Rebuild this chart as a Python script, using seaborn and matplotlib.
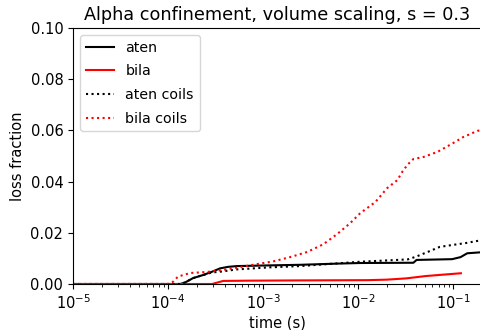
import numpy as np
import pandas as pd
import matplotlib
matplotlib.use("Agg")
import matplotlib.pyplot as plt
import seaborn as sns

# Loss fraction vs time for the two configurations, with and without coil losses
aten_t = [1e-5, 1.34e-4, 1.51e-4, 1.83e-4, 2.33e-4, 2.9e-4, 3.52e-4, 4.28e-4, 5.3e-4,
          9.3e-4, 2.45e-3, 6.5e-3, 1.05e-2, 3.8e-2, 4.1e-2, 9.7e-2, 1.19e-1, 1.4e-1, 1.97e-1]
aten_v = [0.0, 0.0, 0.0006, 0.0023, 0.0035, 0.0048, 0.0061, 0.0067, 0.0070,
          0.0072, 0.0075, 0.0080, 0.0082, 0.0083, 0.0094, 0.0097, 0.0105, 0.0120, 0.0124]

bila_t = [1e-5, 2.9e-4, 3.8e-4, 7.0e-4, 2.3e-3, 1.25e-2, 2.0e-2, 3.2e-2, 5.1e-2, 8.1e-2, 1.2e-1]
bila_v = [0.0, 0.0, 0.0012, 0.0013, 0.0014, 0.0015, 0.0017, 0.0022, 0.0031, 0.0037, 0.0042]

aten_coils_t = [1e-5, 1.34e-4, 1.51e-4, 1.83e-4, 2.33e-4, 2.9e-4, 3.52e-4, 5.3e-4,
                1.17e-3, 2.45e-3, 1.05e-2, 3.3e-2, 4.0e-2, 5.6e-2, 7.2e-2, 1.0e-1, 1.35e-1, 1.9e-1]
aten_coils_v = [0.0, 0.0, 0.0006, 0.0023, 0.0035, 0.0045, 0.0048, 0.0057,
                0.0065, 0.0070, 0.0087, 0.0096, 0.0106, 0.0128, 0.0145, 0.0153, 0.0160, 0.0170]

bila_coils_t = [1e-5, 1.0e-4, 1.13e-4, 1.27e-4, 1.71e-4, 2.58e-4, 3.79e-4, 5.73e-4, 8.65e-4,
                1.27e-3, 1.92e-3, 2.9e-3, 4.28e-3, 6.0e-3, 8.24e-3, 1.05e-2, 1.245e-2,
                1.51e-2, 2.02e-2, 2.58e-2, 2.9e-2, 3.28e-2, 3.79e-2, 4.83e-2, 6.8e-2,
                1.0e-1, 1.27e-1, 1.79e-1, 1.97e-1]
bila_coils_v = [0.0, 0.0, 0.0009, 0.0029, 0.0043, 0.0047, 0.0055, 0.0066, 0.0078,
                0.0088, 0.0105, 0.0125, 0.0155, 0.0195, 0.0238, 0.0277, 0.0297,
                0.0320, 0.0375, 0.0406, 0.0438, 0.0465, 0.0488, 0.0496, 0.0516,
                0.0551, 0.0574, 0.0598, 0.0602]

y_ticks = [0.00, 0.02, 0.04, 0.06, 0.08, 0.10]

series = [
    ("aten", aten_t, aten_v, "black", "-"),
    ("bila", bila_t, bila_v, "red", "-"),
    ("aten coils", aten_coils_t, aten_coils_v, "black", ":"),
    ("bila coils", bila_coils_t, bila_coils_v, "red", ":"),
]

fig = plt.figure(figsize=(4.8, 3.3), dpi=100)
ax = fig.add_axes([73 / 480, 46 / 330, 409 / 480, 256 / 330])

for name, t, v, color, ls in series:
    df = pd.DataFrame({"time": t, "loss": v})
    sns.lineplot(data=df, x="time", y="loss", ax=ax, color=color,
                 linestyle=ls, linewidth=1.5, label=name, estimator=None)

ax.set_xscale("log")
ax.set_xlim(1e-5, 0.2)
ax.set_ylim(0, 0.1)
ax.set_yticks(y_ticks)
ax.yaxis.set_major_formatter(matplotlib.ticker.FormatStrFormatter("%.2f"))
ax.set_xlabel("time (s)", fontsize=10.5, labelpad=2)
ax.set_ylabel("loss fraction", fontsize=10.5)
ax.set_title("Alpha confinement, volume scaling, s = 0.3", fontsize=12.7)
ax.tick_params(labelsize=10.5)
ax.legend(loc="upper left", fontsize=10.2, labelspacing=0.68)

fig.savefig("out.png", dpi=100)
